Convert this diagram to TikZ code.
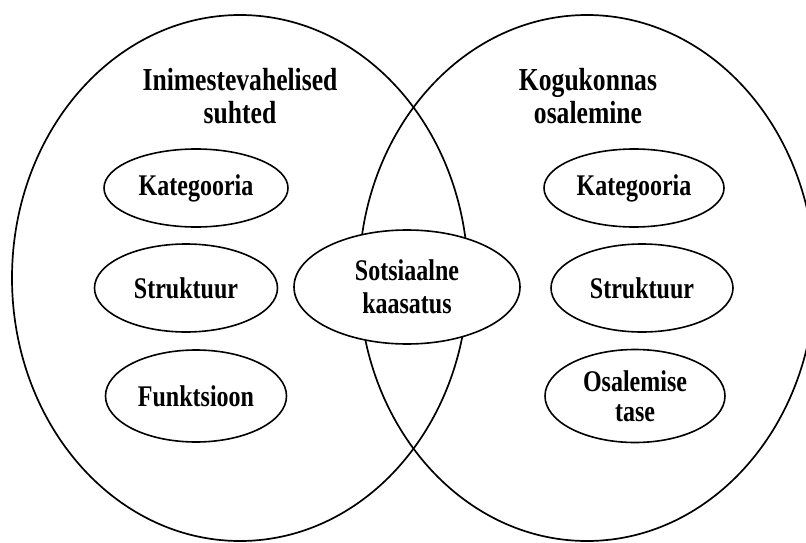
\documentclass[tikz,border=0pt]{standalone}
\usepackage{fontspec}
\setmainfont{Liberation Serif}
\newfontfamily\narrowbold{Liberation Serif}[FakeStretch=0.8,UprightFont=* Bold]
\usetikzlibrary{shapes.geometric}
\begin{document}
\begin{tikzpicture}[x=1pt,y=-1pt,
  big/.style={draw=black,line width=1.7pt,ellipse,inner sep=0pt},
  small/.style={draw=black,line width=1.6pt,ellipse,inner sep=0pt,
    font=\narrowbold\fontsize{30}{33}\selectfont,align=center},
  title/.style={font=\narrowbold\fontsize{32}{33}\selectfont,align=center,inner sep=0pt}]
\useasboundingbox (0,0) rectangle (806,543);
\fill[white] (0,0) rectangle (806,543);
\node[big,minimum width=456pt,minimum height=526pt] (L) at (240,278) {};
\node[big,minimum width=456pt,minimum height=526pt] (R) at (587,278) {};
\node[title] (tl) at (240,96) {Inimestevahelised\\suhted};
\node[title] (tr) at (588,96) {Kogukonnas\\osalemine};
\node[small,minimum width=184pt,minimum height=78pt] (k1) at (196,188) {Kategooria};
\node[small,minimum width=183pt,minimum height=88pt] (s1) at (186,288) {Struktuur};
\node[small,minimum width=181pt,minimum height=92pt] (f1) at (196,396) {Funktsioon};
\node[small,minimum width=180pt,minimum height=78pt] (k2) at (634,188) {Kategooria};
\node[small,minimum width=182pt,minimum height=88pt] (s2) at (642,288) {Struktuur};
\node[small,minimum width=180pt,minimum height=93pt] (o2) at (635,396) {Osalemise\\[-3pt]tase};
\node[small,minimum width=226pt,minimum height=114pt,fill=white] (c) at (407,287) {Sotsiaalne\\kaasatus};
\end{tikzpicture}
\end{document}
